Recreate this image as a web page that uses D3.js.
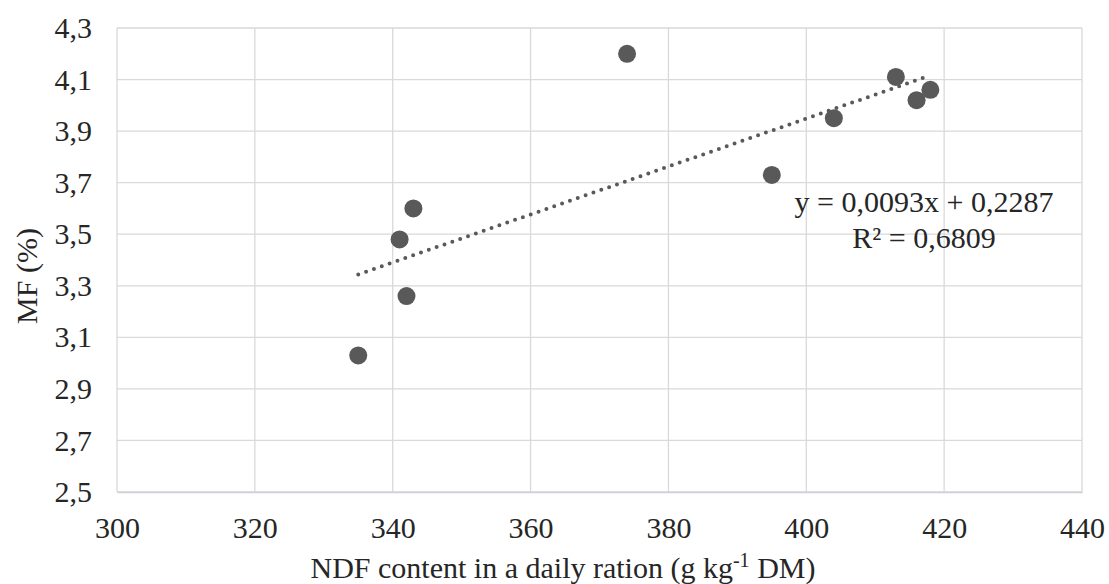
<!DOCTYPE html>
<html><head><meta charset="utf-8">
<script src="https://cdn.jsdelivr.net/npm/d3@7"></script>
<style>body{margin:0;background:#fff}svg{display:block}</style>
</head><body><svg id="c" width="1109" height="584"></svg>
<script>
const ndf = [335, 341, 342, 343, 374, 395, 404, 413, 416, 418];
const mf  = [3.03, 3.48, 3.26, 3.60, 4.20, 3.73, 3.95, 4.11, 4.02, 4.06];
const xTicks = [300, 320, 340, 360, 380, 400, 420, 440];
const yTicks = [2.5, 2.7, 2.9, 3.1, 3.3, 3.5, 3.7, 3.9, 4.1, 4.3];
const slope = 0.0093, intercept = 0.2287;
const eqLines = ["y = 0,0093x + 0,2287", "R² = 0,6809"];

const FONT = "'Liberation Serif', Tinos, 'Times New Roman', serif";
const svg = d3.select("#c");
const L = 117, R = 1082, T = 28, B = 492;
const x = d3.scaleLinear().domain([300, 440]).range([L, R]);
const y = d3.scaleLinear().domain([2.5, 4.3]).range([B, T]);
const fmt = d => d3.format(".1f")(d).replace(".", ",");

svg.append("g").selectAll("line").data(xTicks).join("line")
  .attr("x1", d => x(d)).attr("x2", d => x(d)).attr("y1", T).attr("y2", B)
  .attr("stroke", "#d9d9d9").attr("stroke-width", 1.3);
svg.append("g").selectAll("line").data(yTicks).join("line")
  .attr("x1", L).attr("x2", R).attr("y1", d => y(d)).attr("y2", d => y(d))
  .attr("stroke", "#d9d9d9").attr("stroke-width", 1.3);

const xa = svg.append("g").attr("transform", `translate(0,${B})`)
  .call(d3.axisBottom(x).tickValues(xTicks).tickSize(0).tickPadding(25).tickFormat(d3.format("d")));
xa.attr("font-family", FONT);
xa.select(".domain").attr("stroke", "#d0d0d8").attr("stroke-width", 1.3);
xa.selectAll("text").attr("font-size", 30).attr("fill", "#262626");
const ya = svg.append("g").attr("transform", `translate(${L},0)`)
  .call(d3.axisLeft(y).tickValues(yTicks).tickSize(0).tickPadding(25).tickFormat(fmt));
ya.attr("font-family", FONT);
ya.select(".domain").remove();
ya.selectAll("text").attr("font-size", 30).attr("fill", "#262626");

const x0 = d3.min(ndf), x1 = d3.max(ndf);
svg.append("line")
  .attr("x1", x(x0)).attr("y1", y(slope * x0 + intercept))
  .attr("x2", x(x1)).attr("y2", y(slope * x1 + intercept))
  .attr("stroke", "#595959").attr("stroke-width", 4)
  .attr("stroke-linecap", "round").attr("stroke-dasharray", "0 8.3");

svg.append("g").selectAll("circle").data(ndf.map((v, i) => [v, mf[i]])).join("circle")
  .attr("cx", d => x(d[0])).attr("cy", d => y(d[1])).attr("r", 9)
  .attr("fill", "#595959");

const tx = svg.append("g").attr("font-family", FONT).attr("fill", "#262626");
tx.append("text").attr("x", 924).attr("y", 212).attr("text-anchor", "middle")
  .attr("font-size", 30).text(eqLines[0]);
tx.append("text").attr("x", 924).attr("y", 248).attr("text-anchor", "middle")
  .attr("font-size", 30).text(eqLines[1]);

const xt = tx.append("text").attr("x", 563).attr("y", 578).attr("text-anchor", "middle").attr("font-size", 30);
xt.append("tspan").text("NDF content in a daily ration (g kg");
xt.append("tspan").attr("dy", -11).attr("font-size", 20).text("-1");
xt.append("tspan").attr("dy", 11).text(" DM)");
tx.append("text").attr("transform", "translate(37,276) rotate(-90)").attr("text-anchor", "middle")
  .attr("font-size", 30).text("MF (%)");
</script></body></html>
